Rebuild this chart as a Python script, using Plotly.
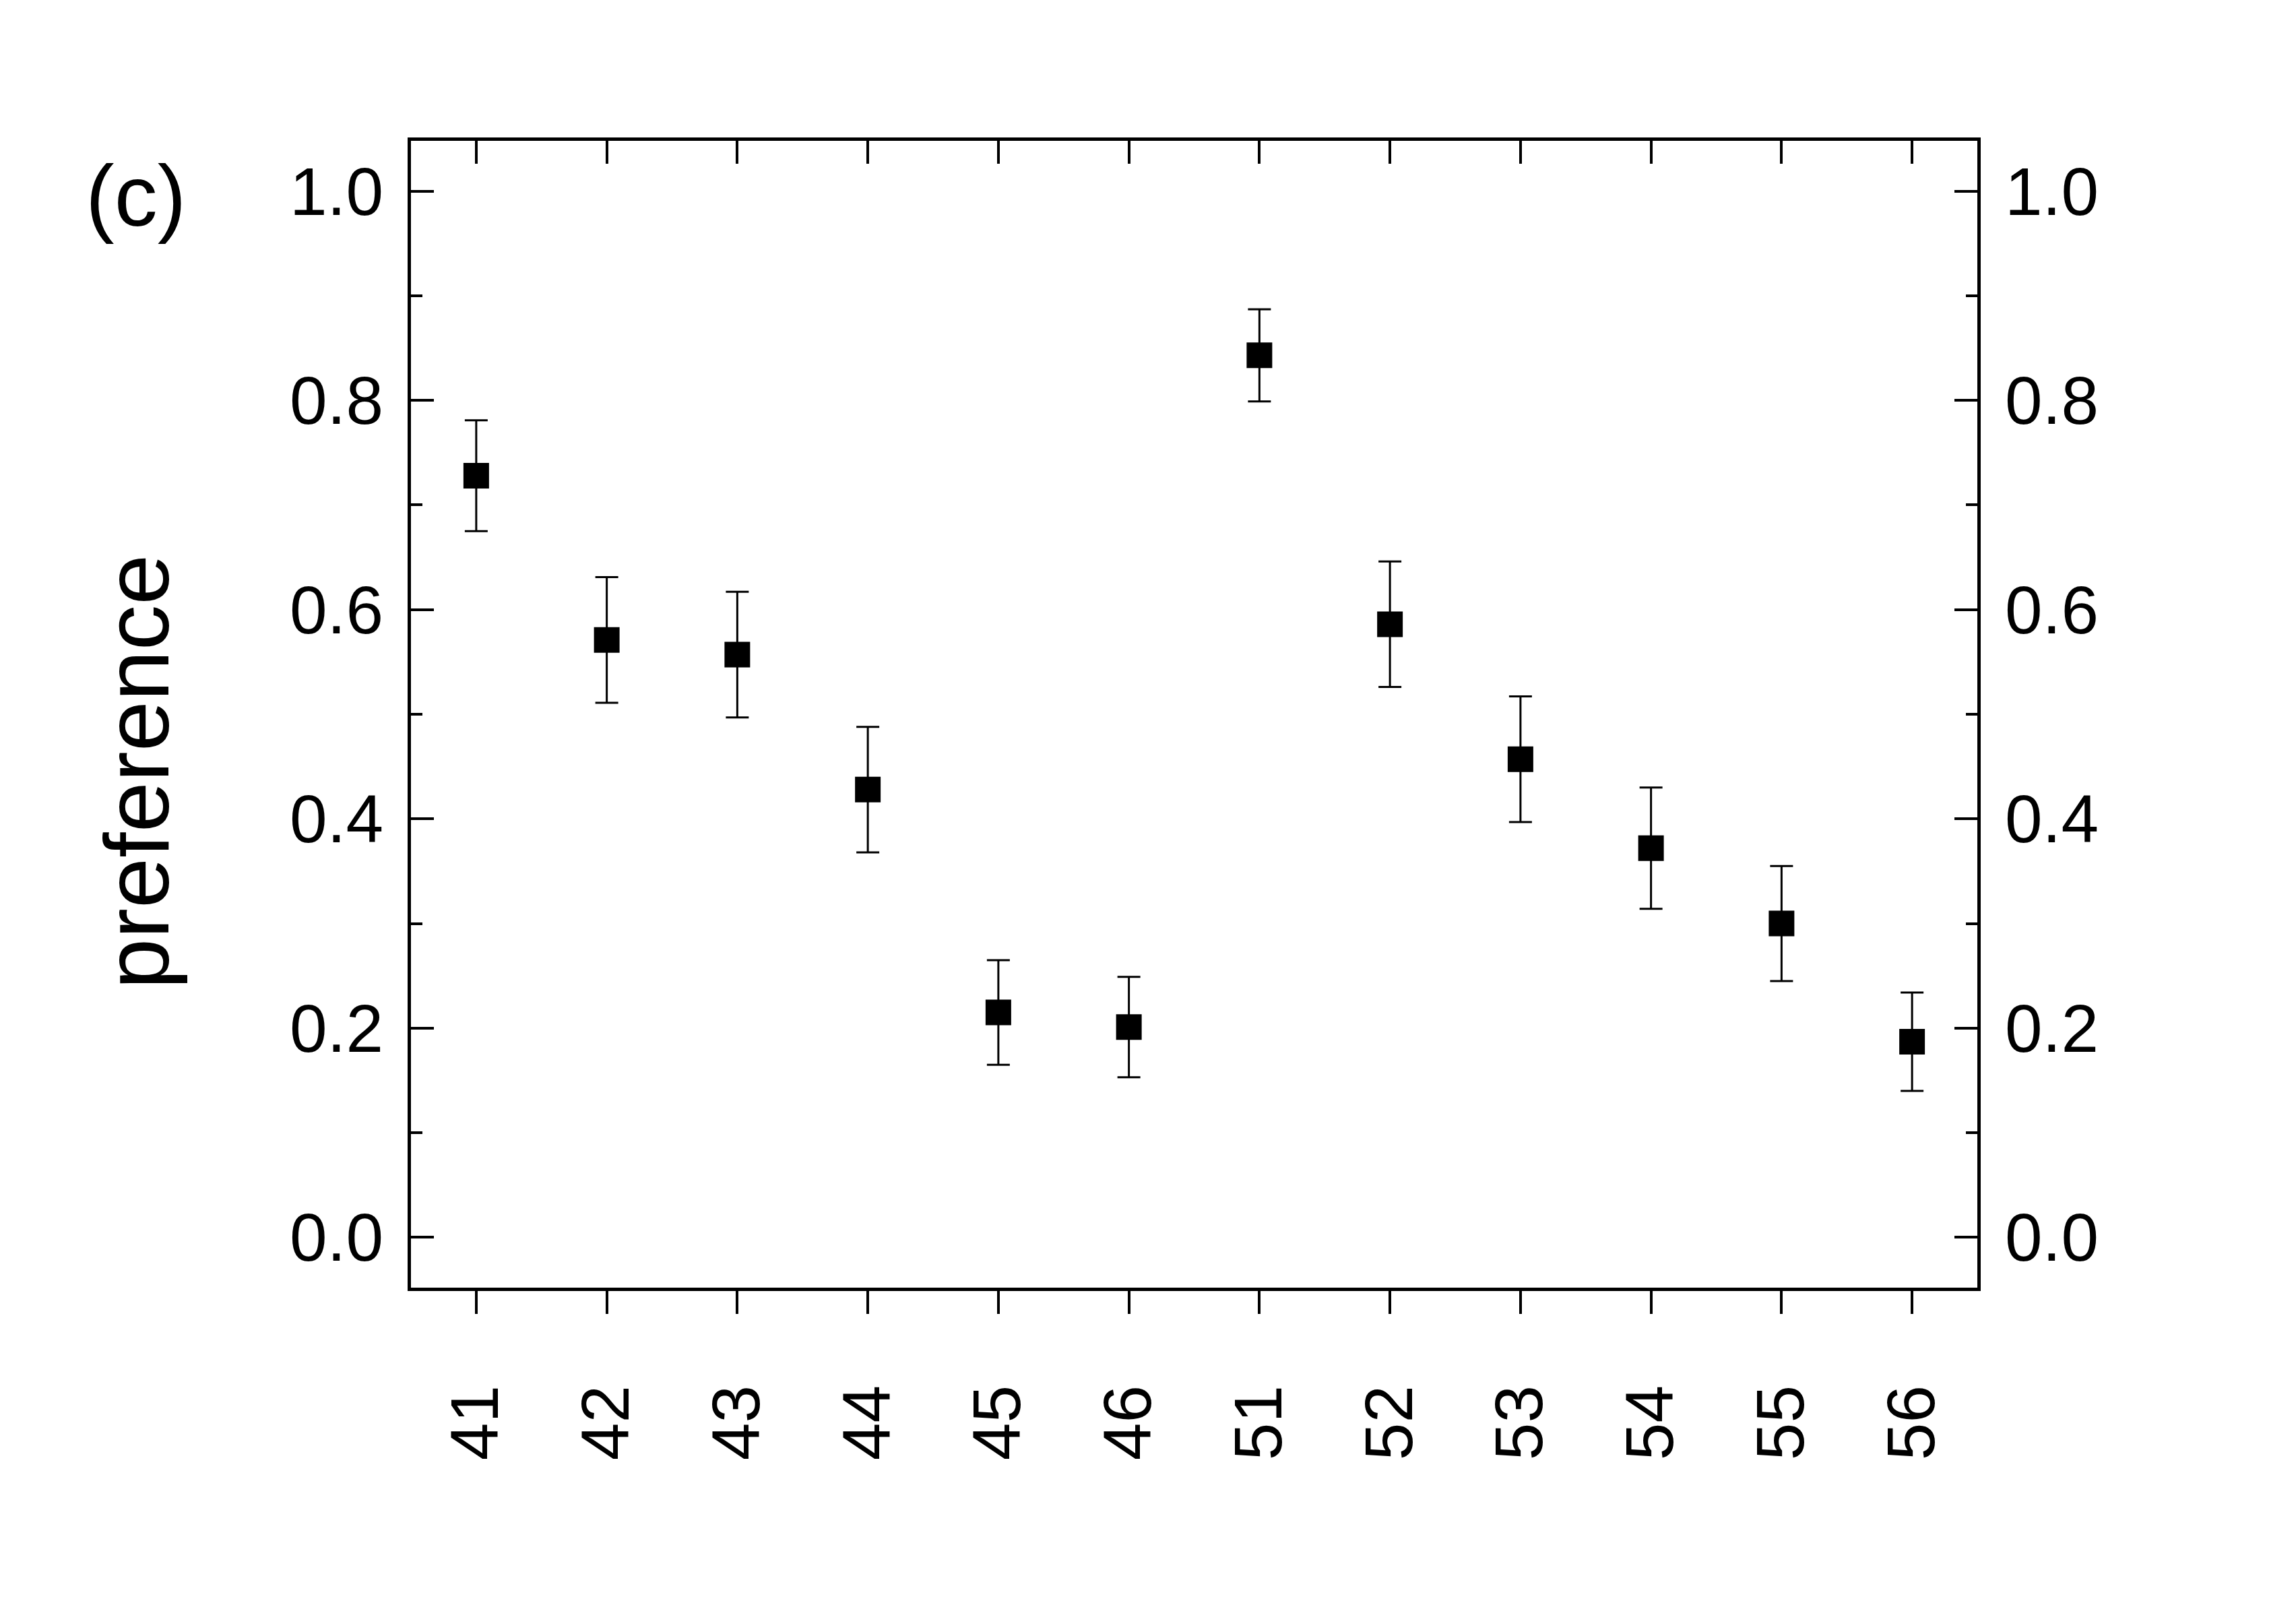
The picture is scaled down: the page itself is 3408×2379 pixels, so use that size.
import plotly.graph_objects as go

# data
categories = ["41", "42", "43", "44", "45", "46", "51", "52", "53", "54", "55", "56"]
preference = [0.728, 0.571, 0.557, 0.428, 0.215, 0.201, 0.843, 0.586, 0.457, 0.372, 0.300, 0.187]
errors = [0.053, 0.060, 0.060, 0.060, 0.050, 0.048, 0.044, 0.060, 0.060, 0.058, 0.055, 0.047]
y_ticks = [0.0, 0.2, 0.4, 0.6, 0.8, 1.0]

xpos = list(range(len(categories)))
FONT = "Liberation Sans, Arial, sans-serif"

fig = go.Figure()

fig.add_trace(go.Scatter(
    x=xpos, y=preference,
    mode="markers",
    marker=dict(symbol="square", size=38, color="black", line_width=0),
    error_y=dict(type="data", array=errors, symmetric=True,
                 color="black", thickness=3, width=17),
    showlegend=False,
))

# invisible copy so the top / right axes get drawn
fig.add_trace(go.Scatter(
    x=xpos, y=preference, xaxis="x2", yaxis="y2",
    mode="markers", marker=dict(opacity=0),
    hoverinfo="skip", showlegend=False,
))

xr = [-0.5, 11.5]
yr = [-0.048, 1.048]

tick_style = dict(tickwidth=4, tickcolor="black", showline=True, linewidth=5,
                  linecolor="black", showgrid=False, zeroline=False)
minor_style = dict(dtick=0.1, tick0=0, ticks="inside", ticklen=17, tickwidth=4, tickcolor="black")

# page body has an 8px margin, so the figure is 8px smaller and margins shifted
fig.update_layout(
    width=3400, height=2371,
    margin=dict(l=602, r=473, t=201, b=468, pad=0),
    plot_bgcolor="white", paper_bgcolor="white",
    font=dict(family=FONT, color="black"),
    xaxis=dict(
        range=xr, tickvals=xpos, ticktext=categories, tickangle=-90,
        ticks="outside", ticklen=34, tickfont=dict(size=100), ticklabelstandoff=66,
        **tick_style,
    ),
    xaxis2=dict(
        range=xr, tickvals=xpos, overlaying="x", side="top", anchor="y",
        ticks="inside", ticklen=34, showticklabels=False,
        **tick_style,
    ),
    yaxis=dict(
        range=yr, tickvals=y_ticks, tickformat=".1f",
        ticks="inside", ticklen=34, minor=minor_style,
        tickfont=dict(size=100), ticklabelstandoff=16,
        **tick_style,
    ),
    yaxis2=dict(
        range=yr, tickvals=y_ticks, tickformat=".1f", overlaying="y", side="right", anchor="x",
        ticks="inside", ticklen=34, minor=minor_style,
        tickfont=dict(size=100), ticklabelstandoff=16,
        **tick_style,
    ),
)

# axis title and panel label
fig.add_annotation(text="preference", xref="paper", yref="paper",
                   x=-0.1751, y=0.450, xanchor="center", yanchor="middle",
                   textangle=-90, showarrow=False, font=dict(size=135))
fig.add_annotation(text="(c)", xref="paper", yref="paper",
                   x=-0.1755, y=0.952, xanchor="center", yanchor="middle",
                   showarrow=False, font=dict(size=128))

fig.write_html("out.html")
